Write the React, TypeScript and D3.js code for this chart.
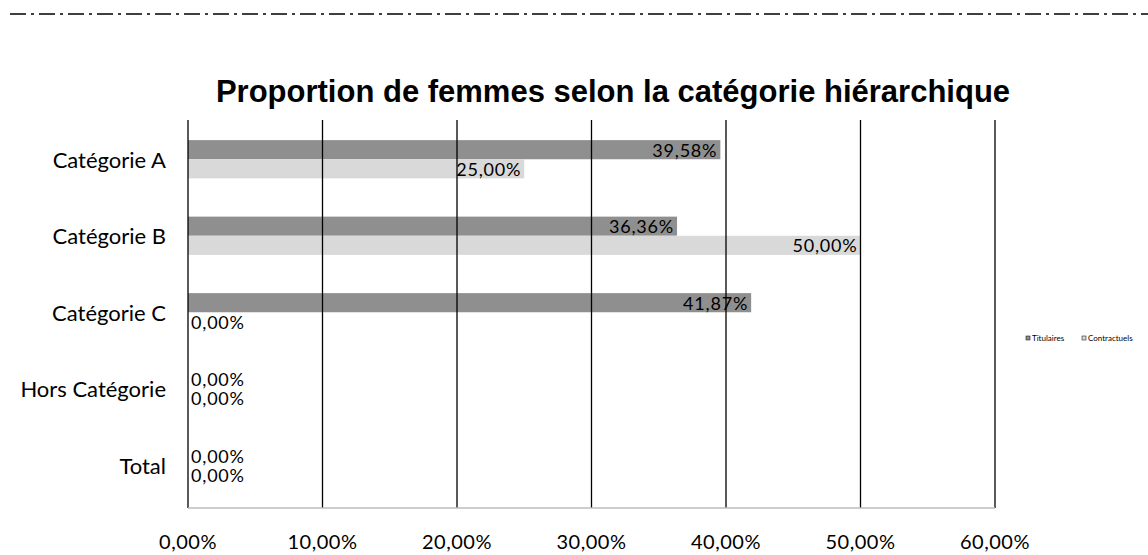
import React from 'react';
import * as d3 from 'd3';

// Chart data
const categories = ['Catégorie A', 'Catégorie B', 'Catégorie C', 'Hors Catégorie', 'Total'];
const seriesNames = ['Titulaires', 'Contractuels'];
const serie1 = [0.3958, 0.3636, 0.4187, 0, 0];
const serie2 = [0.25, 0.5, 0, 0, 0];
const xTicks = [0, 0.1, 0.2, 0.3, 0.4, 0.5, 0.6];

const W = 1148;
const H = 555;
const labelFont = 'Lato, "Open Sans", sans-serif';

const fmt = (v: number) => (v * 100).toFixed(2).replace('.', ',') + '%';

export default function App() {
  const x = d3.scaleLinear().domain([0, 0.6]).range([188, 995]);
  const y = d3.scaleBand<string>().domain(categories).range([121, 503.5]).paddingInner(0.5).paddingOuter(0.25);
  const sub = d3.scaleBand<number>().domain([0, 1]).range([0, y.bandwidth()]);
  const colors = ['#8f8f8f', '#d9d9d9'];
  const series = [serie1, serie2];

  return (
    <div style={{ position: 'fixed', left: 0, top: 0, background: '#fff' }}>
      <svg width={W} height={H} style={{ display: 'block' }}>
        <rect width={W} height={H} fill="#fff" />

        {/* top border (scanned) */}
        <line x1={10} x2={W} y1={14} y2={14} stroke="#000" strokeWidth={1.5} strokeDasharray="16 5 3 5" />

        <text
          x={613}
          y={91}
          textAnchor="middle"
          dominantBaseline="central"
          fontFamily='"Liberation Sans", Arial, sans-serif'
          fontWeight="bold"
          fontSize={31}
        >
          Proportion de femmes selon la catégorie hiérarchique
        </text>

        {/* bars */}
        {series.map((vals, si) =>
          categories.map((c, i) => (
            <rect
              key={`b${si}-${i}`}
              x={x(0)}
              y={(y(c) as number) + (sub(si) as number)}
              width={x(vals[i]) - x(0)}
              height={sub.bandwidth()}
              fill={colors[si]}
            />
          ))
        )}

        {/* grid lines */}
        {xTicks.map((t) => (
          <line key={`g${t}`} x1={x(t)} x2={x(t)} y1={120} y2={508} stroke="#000" strokeWidth={1.3} />
        ))}
        <line x1={x(0)} x2={x(0.6)} y1={508} y2={508} stroke="#bdbdbd" strokeWidth={1.3} />

        {/* data labels */}
        {series.map((vals, si) =>
          categories.map((c, i) => {
            const v = vals[i];
            const cy = (y(c) as number) + (sub(si) as number) + sub.bandwidth() / 2;
            return (
              <text
                key={`l${si}-${i}`}
                x={v > 0 ? x(v) - 3 : x(0) + 3}
                y={cy}
                textAnchor={v > 0 ? 'end' : 'start'}
                dominantBaseline="central"
                fontFamily={labelFont}
                fontSize={18}
                letterSpacing={0.8}
                fill="#000"
              >
                {fmt(v)}
              </text>
            );
          })
        )}

        {/* category labels */}
        {categories.map((c) => (
          <text
            key={c}
            x={166}
            y={(y(c) as number) + y.bandwidth() / 2}
            textAnchor="end"
            dominantBaseline="central"
            fontFamily={labelFont}
            fontSize={22}
          >
            {c}
          </text>
        ))}

        {/* x tick labels */}
        {xTicks.map((t) => (
          <text
            key={`t${t}`}
            x={x(t)}
            y={541}
            textAnchor="middle"
            dominantBaseline="central"
            fontFamily={labelFont}
            fontSize={20}
            letterSpacing={0.5}
          >
            {fmt(t)}
          </text>
        ))}

        {/* legend */}
        {seriesNames.map((n, i) => (
          <g key={n} transform={`translate(${1026 + i * 56},338)`}>
            <rect x={0} y={-2} width={4} height={4} fill={colors[i]} stroke="#000" strokeWidth={0.5} />
            <text x={6} y={0} dominantBaseline="central" fontFamily={labelFont} fontSize={8}>
              {n}
            </text>
          </g>
        ))}
      </svg>
    </div>
  );
}
